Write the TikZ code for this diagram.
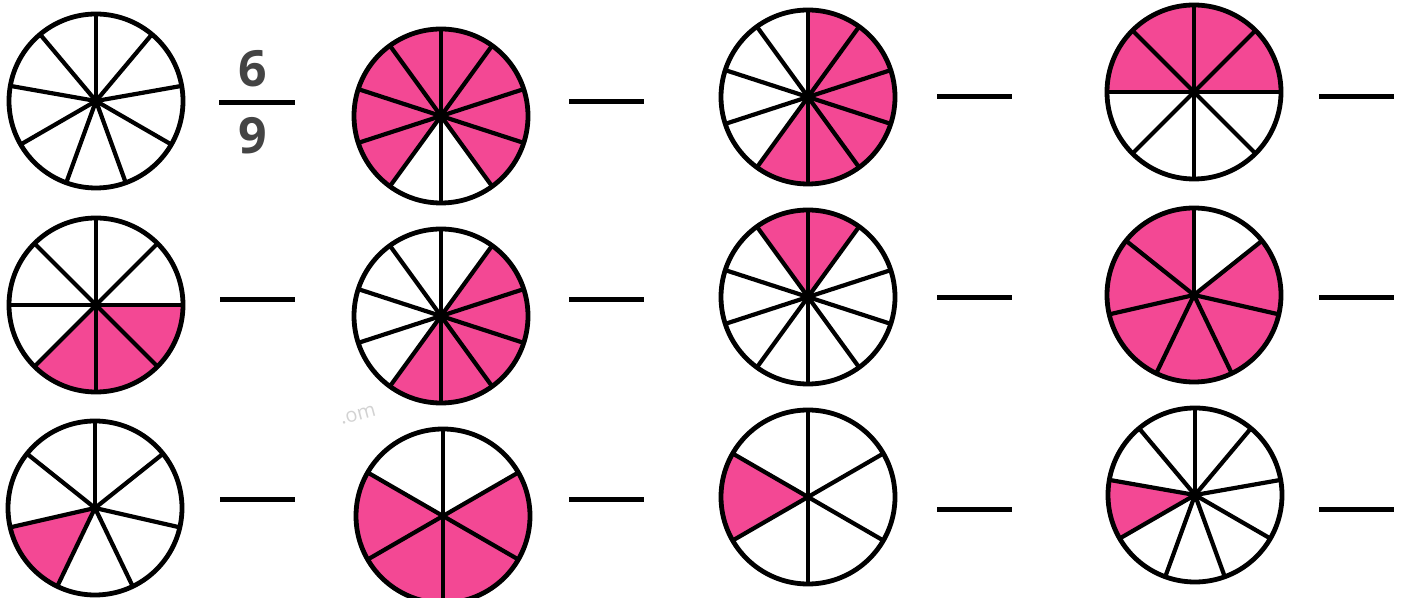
\documentclass[tikz,border=0pt]{standalone}
\usepackage{fontspec}
\setsansfont{Open Sans}
\usepackage{xcolor}
\usepackage{tikz}
\definecolor{pinkfill}{RGB}{243,72,148}
\definecolor{digitgray}{RGB}{68,68,68}

\begin{document}
\begin{tikzpicture}[x=1pt, y=1pt, line join=round,
  rim/.style={line width=4.8pt},
  spoke/.style={line width=4.2pt},
  blank/.style={line width=5pt},
  digit/.style={inner sep=0pt, text=digitgray, font=\sffamily\bfseries\fontsize{50}{50}\selectfont}]
  \useasboundingbox (0,0) rectangle (1408,597);
  \def\rad{87}
  \foreach \cx/\cy/\n/\sh [count=\p] in {96/496/9/{-1}, 441/481/10/{0,1,2,3,6,7,8,9},
      808/500/10/{4,5,6,7,8,9}, 1194/505/8/{0,1,6,7},
      96/292/8/{3,4,5}, 441/281/10/{4,5,6,7,8}, 808/300/10/{0,9}, 1194/302/7/{0,1,2,3,4,5},
      95/89/7/{2}, 443/81/6/{1,2,3,4}, 808/100/6/{1}, 1195/102/9/{2}}{
    \coordinate (c\p) at (\cx,\cy);
    \foreach \k in \sh {
      \ifnum\k>-1
        \fill[pinkfill] (c\p) -- ++({90+\k*360/\n}:\rad)
          arc[start angle={90+\k*360/\n}, delta angle={360/\n}, radius=\rad] -- cycle;
      \fi
    }
    \foreach \j in {1,...,\n}
      \draw[spoke] (c\p) -- ++({90+\j*360/\n}:\rad);
    \draw[rim] (c\p) circle[radius=\rad];
  }
  \foreach \x/\y in {569/495, 937/500, 1319/500, 220/297, 569/297, 937/299, 1319/299,
      220/97, 569/97, 937/87, 1319/87}
    \draw[blank] (\x,\y) -- ++(75,0);
  \node[digit] (num) at (253,528) {6};
  \node[digit] (den) at (253,461) {9};
  \draw[blank] (219,494) -- (295,494);
  \node[text=gray!35, rotate=15, inner sep=0pt, font=\sffamily\fontsize{20}{20}\selectfont] (wm) at (358,182) {.om};
\end{tikzpicture}
\end{document}
